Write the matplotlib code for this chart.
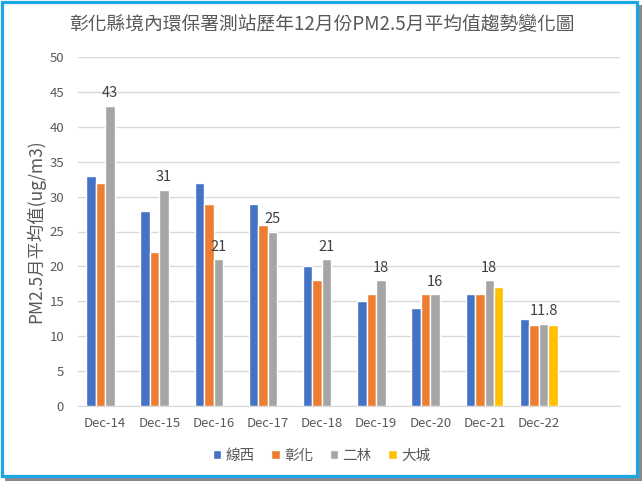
import numpy as np
import matplotlib
matplotlib.use("Agg")
import matplotlib.pyplot as plt
from matplotlib.patches import Rectangle

plt.rcParams["font.family"] = ["Noto Sans CJK TC", "DejaVu Sans"]

# data
categories = ["Dec-14", "Dec-15", "Dec-16", "Dec-17", "Dec-18",
              "Dec-19", "Dec-20", "Dec-21", "Dec-22"]
xianxi = [33, 28, 32, 29, 20, 15, 14, 16, 12.4]
changhua = [32, 22, 29, 26, 18, 16, 16, 16.1, 11.6]
erlin = [43, 31, 21, 25, 21, 18, 16, 18, 11.8]
dacheng = [np.nan, np.nan, np.nan, np.nan, np.nan, np.nan, np.nan, 17.1, 11.6]
erlin_labels = ["43", "31", "21", "25", "21", "18", "16", "18", "11.8"]

series_names = ["線西", "彰化", "二林", "大城"]
colors = ["#4472C4", "#ED7D31", "#A5A5A5", "#FFC000"]
text_color = "#595959"

W, H = 643, 484
fig = plt.figure(figsize=(W / 100, H / 100), dpi=100)
fig.patch.set_facecolor("white")

# screenshot frame: grey drop shadow + blue border
fig.patches.append(Rectangle((5 / W, 3 / H), 637 / W, 476 / H, transform=fig.transFigure,
                             facecolor="#8a8a8a", edgecolor="none", zorder=-3))
fig.patches.append(Rectangle((1.5 / W, 8.5 / H), 635 / W, 474 / H, transform=fig.transFigure,
                             facecolor="white", edgecolor="#1AA7E8", linewidth=2.3, zorder=-2))

ax = fig.add_axes([78 / W, (H - 406) / H, (620 - 78) / W, (406 - 57) / H])
ax.set_facecolor("none")

x = np.arange(len(categories))
step = 0.175
all_series = [xianxi, changhua, erlin, dacheng]
for i, (vals, name, c) in enumerate(zip(all_series, series_names, colors)):
    ax.bar(x + (i - 1.5) * step, vals, width=step, color=c, edgecolor="white",
           linewidth=1.0, label=name, zorder=3)

# data labels on the 二林 series
for xi, v, lab in zip(x, erlin, erlin_labels):
    ax.annotate(lab, (xi + 0.5 * step, v), xytext=(0, 4), textcoords="offset points",
                ha="center", va="bottom", fontsize=10.5, color="#404040")

ax.set_xlim(-0.5, 9.5)
ax.set_ylim(0, 50)
ax.set_yticks(np.arange(0, 51, 5))
ax.set_xticks(x)
ax.set_xticklabels(categories)
ax.grid(axis="y", color="#D9D9D9", linewidth=1.0, zorder=0)
ax.tick_params(axis="both", length=0, labelsize=9.5, colors=text_color)
ax.tick_params(axis="y", pad=10)
ax.tick_params(axis="x", pad=8)
for s in ["top", "right", "left"]:
    ax.spines[s].set_visible(False)
ax.spines["bottom"].set_color("#D9D9D9")

ax.set_ylabel("PM2.5月平均值(ug/m3)", fontsize=12.5, color=text_color, labelpad=3)

fig.text(0.5, 1 - 25 / H, "彰化縣境內環保署測站歷年12月份PM2.5月平均值趨勢變化圖",
         ha="center", va="center", fontsize=13.5, color=text_color)

leg = ax.legend(loc="center", bbox_to_anchor=(0.5, 28 / H), bbox_transform=fig.transFigure,
                ncol=4, frameon=False, fontsize=10.5, handlelength=0.6, handleheight=0.6,
                handletextpad=0.3, columnspacing=1.1)
for t in leg.get_texts():
    t.set_color(text_color)

fig.savefig("out.png", dpi=100)
